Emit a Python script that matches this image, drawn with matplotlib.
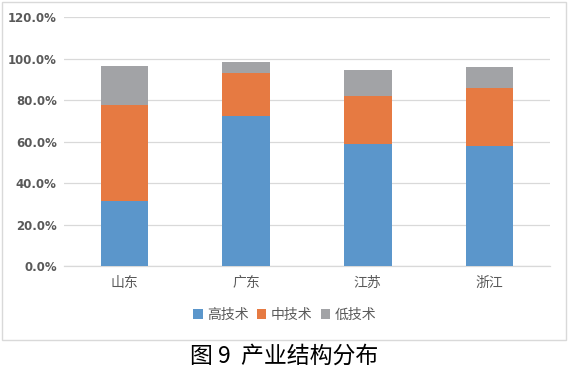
import matplotlib
matplotlib.use("Agg")
import matplotlib.pyplot as plt
from matplotlib.patches import Rectangle
from matplotlib.ticker import PercentFormatter

plt.rcParams['font.family'] = ['Noto Sans CJK SC', 'DejaVu Sans']

provinces = ["山东", "广东", "江苏", "浙江"]
high_tech = [31.5, 72.5, 58.8, 57.8]
mid_tech = [46.0, 20.6, 23.2, 27.9]
low_tech = [19.0, 5.3, 12.4, 10.0]
series_names = ["高技术", "中技术", "低技术"]

_BLUE = "#5B96CB"; _ORANGE = "#E67A42"; _GRAY = "#A2A3A6"
_GRID = "#D9D9D9"; _TXT = "#595959"

fig = plt.figure(figsize=(5.69, 3.71), dpi=100)
fig.patch.set_facecolor("white")
ax = fig.add_axes([0.112, 0.283, 0.855, 0.671])

x = range(len(provinces))
w = 0.39
b1 = ax.bar(x, high_tech, w, color=_BLUE, label=series_names[0], zorder=3)
b2 = ax.bar(x, mid_tech, w, bottom=high_tech, color=_ORANGE, label=series_names[1], zorder=3)
bottom3 = [a + b for a, b in zip(high_tech, mid_tech)]
b3 = ax.bar(x, low_tech, w, bottom=bottom3, color=_GRAY, label=series_names[2], zorder=3)

ax.set_xlim(-0.5, 3.5)
ax.set_ylim(0, 120)
ax.set_yticks(range(0, 121, 20))
ax.yaxis.set_major_formatter(PercentFormatter(decimals=1))
ax.grid(axis="y", color=_GRID, linewidth=0.9, zorder=0)
for s in ["top", "right", "left"]:
    ax.spines[s].set_visible(False)
ax.spines["bottom"].set_color(_GRID)
ax.spines["bottom"].set_linewidth(0.9)
ax.tick_params(axis="y", length=0, colors=_TXT, labelsize=8.5, pad=5)
ax.tick_params(axis="x", length=0, colors=_TXT, labelsize=10, pad=7)
ax.set_xticks(list(x))
ax.set_xticklabels(provinces)
for lbl in ax.get_yticklabels():
    lbl.set_family(["DejaVu Sans"])
    lbl.set_fontweight("bold")

fig.legend(handles=[b1, b2, b3], loc="center", bbox_to_anchor=(0.5, 0.152),
           ncol=3, frameon=False, fontsize=10, handlelength=0.7, handleheight=0.7,
           handletextpad=0.3, columnspacing=0.6, labelcolor=_TXT)

fig.patches.append(Rectangle((0.0035, 0.084), 0.991, 0.911, transform=fig.transFigure,
                             fill=False, edgecolor=_GRID, linewidth=1.0))

fig.text(0.5, 0.04, "图 9  产业结构分布", ha="center", va="center", fontsize=16.5, color="black")

fig.savefig("out.png", dpi=100, facecolor="white")
